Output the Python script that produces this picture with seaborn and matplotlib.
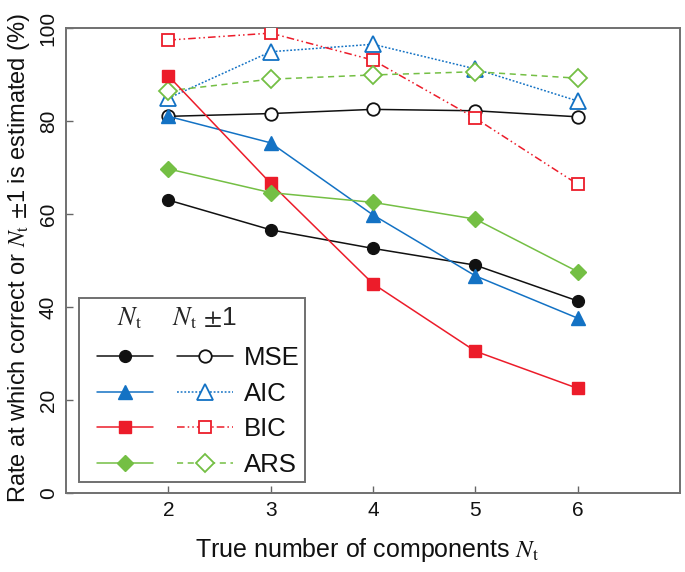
import numpy as np
import pandas as pd
import matplotlib
matplotlib.use("Agg")
import matplotlib.pyplot as plt
from matplotlib.lines import Line2D
from matplotlib.legend_handler import HandlerTuple
import seaborn as sns

# ---------------- data ----------------
n_true = [2, 3, 4, 5, 6]
mse_nt = [63.0, 56.6, 52.6, 49.0, 41.3]
mse_pm1 = [81.0, 81.6, 82.5, 82.2, 80.9]
aic_nt = [81.0, 75.3, 59.8, 46.7, 37.6]
aic_pm1 = [84.9, 94.9, 96.5, 91.2, 84.3]
bic_nt = [89.7, 66.6, 45.0, 30.5, 22.5]
bic_pm1 = [97.4, 98.9, 93.1, 80.6, 66.4]
ars_nt = [69.7, 64.6, 62.5, 58.9, 47.6]
ars_pm1 = [86.5, 89.0, 89.9, 90.6, 89.2]
methods = ["MSE", "AIC", "BIC", "ARS"]
x_ticks = [2, 3, 4, 5, 6]
y_ticks = [0, 20, 40, 60, 80, 100]

sns.set_style("white")
plt.rcParams["font.family"] = ["Liberation Sans", "DejaVu Sans"]
plt.rcParams["mathtext.fontset"] = "stix"

fig = plt.figure(figsize=(6.85, 5.72), dpi=100)
ax = fig.add_axes([66 / 685, 1 - 493 / 572, 614 / 685, 465 / 572])

styles = {
    "MSE": dict(color="#111111", marker="o", ms=8.5, ms_open=9.0, ls_open="-"),
    "AIC": dict(color="#1372c4", marker="^", ms=10, ms_open=11, ls_open=(0, (1.2, 1.2))),
    "BIC": dict(color="#ec1c2a", marker="s", ms=8, ms_open=9, ls_open=(0, (5, 2, 1, 2, 1, 2))),
    "ARS": dict(color="#74bf44", marker="D", ms=8.5, ms_open=9.5, ls_open=(0, (4, 3))),
}
series = {
    "MSE": (mse_nt, mse_pm1),
    "AIC": (aic_nt, aic_pm1),
    "BIC": (bic_nt, bic_pm1),
    "ARS": (ars_nt, ars_pm1),
}

lw = 1.1
handles = []
for m in methods:
    st = styles[m]
    nt, pm = series[m]
    df = pd.DataFrame({"n": n_true, "nt": nt, "pm": pm})
    sns.lineplot(data=df, x="n", y="pm", ax=ax, color=st["color"], lw=lw,
                 linestyle=st["ls_open"], marker=st["marker"], ms=st["ms_open"],
                 markerfacecolor="white", markeredgecolor=st["color"],
                 markeredgewidth=1.3, zorder=3)
    sns.lineplot(data=df, x="n", y="nt", ax=ax, color=st["color"], lw=lw,
                 linestyle="-", marker=st["marker"], ms=st["ms"],
                 markerfacecolor=st["color"], markeredgecolor=st["color"],
                 markeredgewidth=1.0, zorder=4)
    h1 = Line2D([], [], color=st["color"], lw=lw, ls="-", marker=st["marker"],
                ms=st["ms"], mfc=st["color"], mec=st["color"])
    h2 = Line2D([], [], color=st["color"], lw=lw, ls=st["ls_open"], marker=st["marker"],
                ms=st["ms_open"], mfc="white", mec=st["color"], mew=1.3)
    handles.append((h1, h2))


class ShiftedTuple(HandlerTuple):
    """HandlerTuple whose artists start a little to the right inside the handle box."""
    def __init__(self, shift_frac=0.26, **kw):
        super().__init__(**kw)
        self.shift_frac = shift_frac

    def create_artists(self, legend, orig_handle, xdescent, ydescent, width, height,
                       fontsize, trans):
        shift = self.shift_frac * fontsize
        return super().create_artists(legend, orig_handle, xdescent - shift, ydescent,
                                      width - shift, height, fontsize, trans)


ax.set_xlim(1, 7)
ax.set_ylim(0, 100)
ax.set_xticks(x_ticks)
ax.set_yticks(y_ticks)
ax.set_xticklabels([str(v) for v in x_ticks])
ax.set_yticklabels([str(v) for v in y_ticks], rotation=90, va="center")
ax.tick_params(direction="in", length=5, width=1.0, color="#666666",
               labelsize=15, pad=6, labelcolor="#111111",
               bottom=True, left=True, top=False, right=False)
for sp in ax.spines.values():
    sp.set_color("#707070")
    sp.set_linewidth(1.4)

ax.set_xlabel(r"True number of components $N_\mathrm{t}$", fontsize=18, color="#111111")
ax.xaxis.set_label_coords(0.49, -0.093)
ax.set_ylabel(r"Rate at which correct or $N_\mathrm{t}$ $\pm$1 is estimated (%)",
              fontsize=17, color="#111111")
ax.yaxis.set_label_coords(-0.056, 0.505)

leg = ax.legend(handles, methods,
                handler_map={tuple: ShiftedTuple(shift_frac=0.5, ndivide=None, pad=0.9)},
                loc="lower left", bbox_to_anchor=(0.021, 0.024), borderaxespad=0,
                handlelength=5.8, handletextpad=0.44, labelspacing=0.45,
                fontsize=18.5, frameon=True, fancybox=False, framealpha=1,
                title=" ", title_fontsize=24.5, borderpad=0.2)
leg.get_frame().set_edgecolor("#707070")
leg.get_frame().set_linewidth(1.4)
for t in leg.get_texts():
    t.set_color("#111111")

ax.text((130 - 66) / 614, (493 - 318) / 465, r"$N_\mathrm{t}$", transform=ax.transAxes,
        ha="center", va="center", fontsize=19, zorder=10)
ax.text((205 - 66) / 614, (493 - 318) / 465, r"$N_\mathrm{t}$ $\pm$1", transform=ax.transAxes,
        ha="center", va="center", fontsize=19, zorder=10)

fig.savefig("out.png", dpi=100)
